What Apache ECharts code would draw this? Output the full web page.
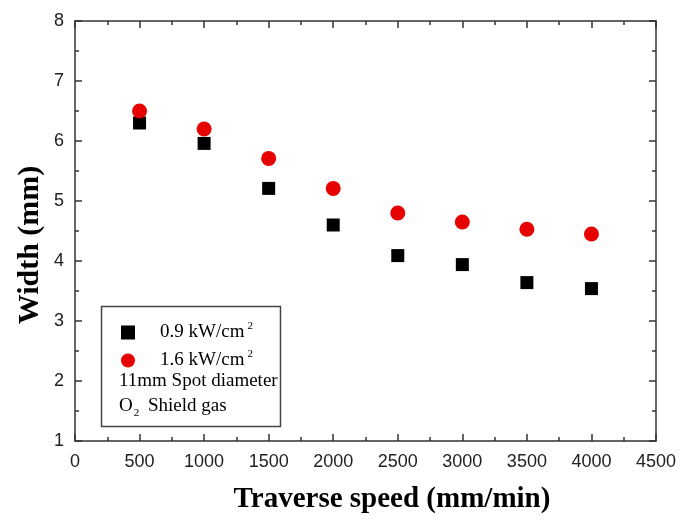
<!DOCTYPE html>
<html>
<head>
<meta charset="utf-8">
<script src="https://cdn.jsdelivr.net/npm/echarts@6/dist/echarts.min.js"></script>
<style>
  html, body { margin: 0; padding: 0; background: #fff; }
  #chart { width: 682px; height: 520px; }
</style>
</head>
<body>
<div id="chart"></div>
<script>
const speeds = [500, 1000, 1500, 2000, 2500, 3000, 3500, 4000];
const widthLow = [6.3, 5.96, 5.21, 4.6, 4.09, 3.94, 3.64, 3.54];
const widthHigh = [6.5, 6.2, 5.71, 5.21, 4.8, 4.65, 4.53, 4.45];
const seriesNames = ['0.9 kW/cm2', '1.6 kW/cm2'];

const chart = echarts.init(document.getElementById('chart'));

function frameAxis(extra) {
  return Object.assign({
    type: 'value',
    axisLine: { show: true, onZero: false, lineStyle: { color: '#333', width: 1.5 } },
    axisTick: { inside: true, length: 7, lineStyle: { color: '#333', width: 1.5 } },
    minorTick: { show: true, splitNumber: 2, length: 4, lineStyle: { color: '#333', width: 1.5 } },
    splitLine: { show: false }
  }, extra);
}

chart.setOption({
  animation: false,
  grid: { left: 75, right: 26, top: 21, bottom: 79, outerBoundsMode: 'none' },
  xAxis: [
    frameAxis({
      min: 0, max: 4500, interval: 500,
      axisLabel: { fontFamily: 'Liberation Sans', fontSize: 18, color: '#222', margin: 12, formatter: v => String(v) }
    }),
    frameAxis({
      min: 0, max: 4500, interval: 500, position: 'top',
      axisLabel: { show: false }
    })
  ],
  yAxis: [
    frameAxis({
      min: 1, max: 8, interval: 1,
      axisLabel: { fontFamily: 'Liberation Sans', fontSize: 18, color: '#222', margin: 11 }
    }),
    frameAxis({
      min: 1, max: 8, interval: 1, position: 'right',
      axisLabel: { show: false }
    })
  ],
  legend: {
    orient: 'vertical', left: 116, top: 316, itemGap: 7,
    itemWidth: 14, itemHeight: 14,
    data: seriesNames,
    formatter: name => name.replace(/2$/, '{sup|2}'),
    textStyle: {
      fontFamily: 'Liberation Serif', fontSize: 19, color: '#000', padding: [0, 0, 0, 20],
      rich: {
        sup: { fontFamily: 'Liberation Serif', fontSize: 11, verticalAlign: 'top', padding: [0, 0, 12, 3] }
      }
    }
  },
  graphic: [
    {
      type: 'text', x: 392, y: 500, z: 11,
      style: {
        text: 'Traverse speed (mm/min)', font: 'bold 29px "Liberation Serif"', fill: '#000',
        align: 'center', verticalAlign: 'middle'
      }
    },
    {
      type: 'text', x: 30, y: 245, rotation: Math.PI / 2, z: 11,
      style: {
        text: 'Width (mm)', font: 'bold 30px "Liberation Serif"', fill: '#000',
        align: 'center', verticalAlign: 'middle'
      }
    },
    {
      type: 'rect', left: 99, top: 304,
      shape: { width: 179, height: 120 },
      style: { fill: 'none', stroke: '#444', lineWidth: 1.5 },
      z: 10
    },
    {
      type: 'text', left: 119, top: 372, z: 11,
      style: { text: '11mm Spot diameter', font: '19px "Liberation Serif"', fill: '#000' }
    },
    {
      type: 'text', left: 119, top: 397, z: 11,
      style: {
        text: 'O{sub|2} Shield gas', font: '19px "Liberation Serif"', fill: '#000',
        rich: { sub: { fontFamily: 'Liberation Serif', fontSize: 11, padding: [14, 4, 0, 1] } }
      }
    }
  ],
  series: [
    {
      name: seriesNames[0], type: 'scatter', symbol: 'rect', symbolSize: 13,
      itemStyle: { color: '#000', opacity: 1 },
      data: speeds.map((s, i) => [s, widthLow[i]])
    },
    {
      name: seriesNames[1], type: 'scatter', symbol: 'circle', symbolSize: 15,
      itemStyle: { color: '#e60000', opacity: 1 },
      data: speeds.map((s, i) => [s, widthHigh[i]])
    }
  ]
});
</script>
</body>
</html>
